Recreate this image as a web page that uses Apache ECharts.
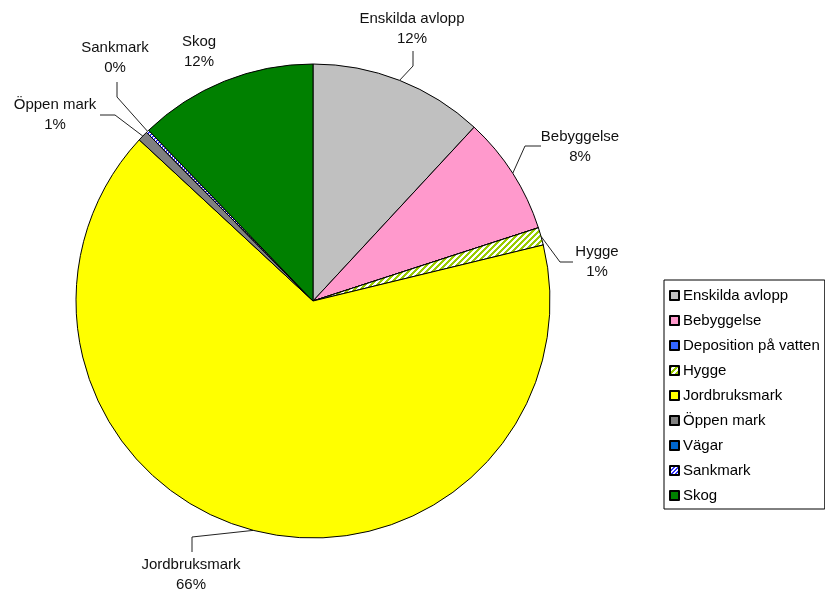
<!DOCTYPE html>
<html>
<head>
<meta charset="utf-8">
<script src="https://cdn.jsdelivr.net/npm/echarts@6/dist/echarts.min.js"></script>
<style>
  html, body { margin: 0; padding: 0; background: #fff; }
  #chart { width: 825px; height: 597px; }
</style>
</head>
<body>
<div id="chart"></div>
<script>
// ---- data ----
const categories = ['Enskilda avlopp', 'Bebyggelse', 'Deposition på vatten', 'Hygge', 'Jordbruksmark', 'Öppen mark', 'Vägar', 'Sankmark', 'Skog'];
const shares = [11.9, 8.1, 0, 1.2, 65.7, 0.7, 0, 0.2, 12.2];

// ---- styles ----
function stripes(fg, bg, period, width) {
  const c = document.createElement('canvas');
  c.width = period; c.height = period;
  const g = c.getContext('2d');
  g.fillStyle = bg; g.fillRect(0, 0, period, period);
  g.fillStyle = fg;
  for (let x = 0; x < period; x++) {
    for (let y = 0; y < period; y++) {
      if (((x + y) % period) < width) g.fillRect(x, y, 1, 1);
    }
  }
  return { image: c, repeat: 'repeat' };
}
const colors = {
  'Enskilda avlopp': '#C0C0C0',
  'Bebyggelse': '#FF99CC',
  'Deposition på vatten': '#3366FF',
  'Hygge': stripes('#99CC00', '#FFFFFF', 6, 3),
  'Jordbruksmark': '#FFFF00',
  'Öppen mark': '#808080',
  'Vägar': '#0066CC',
  'Sankmark': stripes('#3333FF', '#FFFFFF', 4, 2),
  'Skog': '#008000'
};
// label placement (text block centre, leader elbow, leader end)
const labelPos = {
  'Enskilda avlopp': { c: [412, 29], pts: [[413, 66], [413, 51]] },
  'Bebyggelse': { c: [580, 147], pts: [[525, 146], [541, 146]] },
  'Hygge': { c: [597, 262], pts: [[560, 262], [573, 262]] },
  'Jordbruksmark': { c: [191, 575], pts: [[192, 537], [192, 552]] },
  'Öppen mark': { c: [55, 115], pts: [[115, 115], [100, 115]] },
  'Sankmark': { c: [115, 58], pts: [[117, 97], [117, 82]] },
  'Skog': { c: [199, 52], pts: null }
};

const data = categories.map((name, i) => {
  const hide = shares[i] === 0;
  return {
    name: name,
    value: shares[i],
    itemStyle: { color: colors[name] },
    label: { show: !hide },
    labelLine: { show: !hide && name !== 'Skog' }
  };
});

const chart = echarts.init(document.getElementById('chart'), null, { renderer: 'canvas' });
chart.setOption({
  animation: false,
  backgroundColor: '#ffffff',
  legend: {
    orient: 'vertical',
    left: 664,
    top: 280,
    data: categories,
    icon: 'rect',
    itemWidth: 9,
    itemHeight: 9,
    itemGap: 10,
    padding: [8, 5, 6, 5],
    backgroundColor: '#ffffff',
    borderColor: '#000000',
    borderWidth: 1,
    borderRadius: 0,
    textStyle: { fontFamily: 'Liberation Sans, Arial, sans-serif', fontSize: 15, color: '#000', padding: [0, 0, 0, -1] },
    selectedMode: false
  },
  series: [{
    type: 'pie',
    center: [313, 301],
    radius: [0, 237],
    startAngle: 90,
    clockwise: true,
    avoidLabelOverlap: false,
    minAngle: 0,
    itemStyle: { borderColor: '#000', borderWidth: 1 },
    emphasis: { disabled: true },
    label: {
      show: true,
      position: 'outside',
      formatter: p => p.name + '\n' + Math.round(p.percent) + '%',
      fontFamily: 'Liberation Sans, Arial, sans-serif',
      fontSize: 15,
      lineHeight: 20,
      color: '#111',
      align: 'center'
    },
    labelLine: { show: true, length: 10, length2: 10, lineStyle: { color: '#222', width: 1 } },
    labelLayout: function (params) {
      const name = categories[params.dataIndex];
      const lp = labelPos[name];
      if (!lp) return {};
      const out = { x: lp.c[0], y: lp.c[1], align: 'center', verticalAlign: 'middle' };
      if (lp.pts && params.labelLinePoints) {
        out.labelLinePoints = [params.labelLinePoints[0], lp.pts[0], lp.pts[1]];
      }
      return out;
    },
    data: data
  }]
});
</script>
</body>
</html>
